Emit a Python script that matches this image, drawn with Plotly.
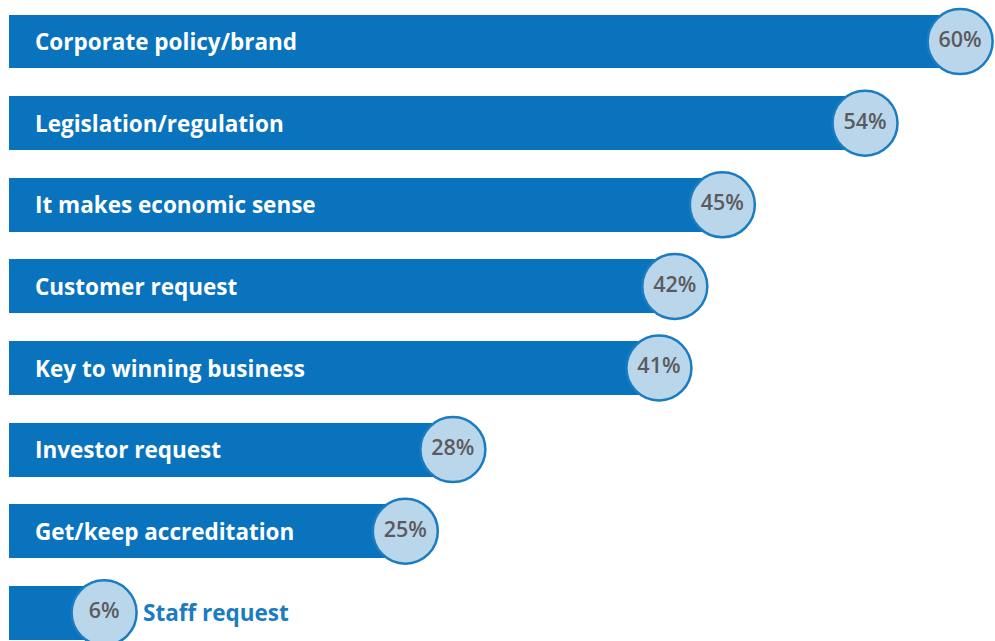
import plotly.graph_objects as go

reasons = [
    "Corporate policy/brand",
    "Legislation/regulation",
    "It makes economic sense",
    "Customer request",
    "Key to winning business",
    "Investor request",
    "Get/keep accreditation",
    "Staff request",
]
shares = [60, 54, 45, 42, 41, 28, 25, 6]
share_labels = ["60%", "54%", "45%", "42%", "41%", "28%", "25%", "6%"]

BAR_BLUE = "#0a73bd"
BUBBLE_FILL = "#bad6eb"
BUBBLE_EDGE = "#1a7cc1"
PCT_GREY = "#5a5b5e"
FONT = "Open Sans"

rows = list(range(len(reasons)))

fig = go.Figure()

fig.add_trace(go.Bar(
    x=shares,
    y=rows,
    orientation="h",
    width=0.66,
    marker=dict(color=BAR_BLUE, line=dict(width=0)),
    hoverinfo="skip",
))

fig.add_trace(go.Scatter(
    x=shares,
    y=rows,
    mode="markers+text",
    marker=dict(size=65, color=BUBBLE_FILL, line=dict(color=BUBBLE_EDGE, width=2.5)),
    text=share_labels,
    textposition="middle center",
    textfont=dict(family=FONT, size=21.5, color=PCT_GREY, weight=600),
    hoverinfo="skip",
    cliponaxis=False,
))

# Category names: white inside long bars, blue beside the bubble for the short one
for i, (name, v) in enumerate(zip(reasons, shares)):
    if v >= 15:
        fig.add_annotation(
            x=0, y=i, text=name, showarrow=False,
            xanchor="left", yanchor="middle", xshift=24,
            font=dict(family=FONT, size=22.5, color="white", weight=700),
        )
    else:
        fig.add_annotation(
            x=v, y=i, text=name, showarrow=False,
            xanchor="left", yanchor="middle", xshift=37,
            font=dict(family=FONT, size=22.5, color=BUBBLE_EDGE, weight=700),
        )

fig.update_layout(
    width=995, height=641,
    margin=dict(l=9, r=0, t=0, b=0),
    paper_bgcolor="white",
    plot_bgcolor="white",
    showlegend=False,
    bargap=0,
    xaxis=dict(range=[0, 62.2], visible=False, fixedrange=True),
    yaxis=dict(range=[7.345, -0.509], visible=False, fixedrange=True),
)

fig.write_html("out.html")
